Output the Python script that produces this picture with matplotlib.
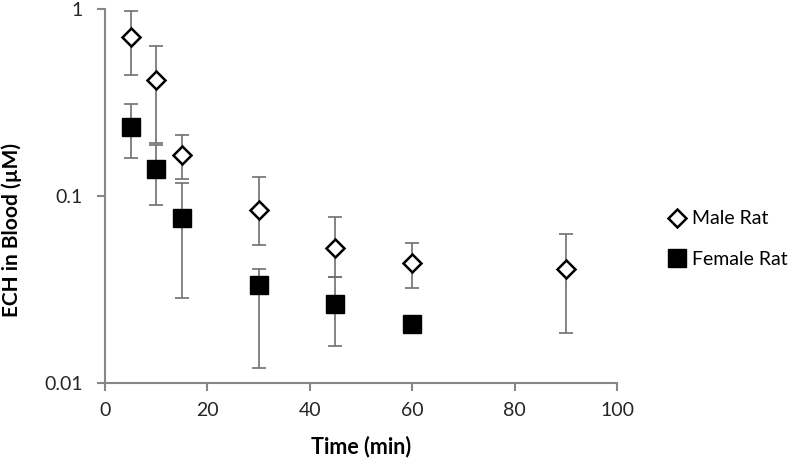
import matplotlib
matplotlib.use("Agg")
import matplotlib.pyplot as plt
import numpy as np

plt.rcParams['font.family'] = ['Lato', 'DejaVu Sans']

male_t = [5, 10, 15, 30, 45, 60, 90]
male_v = [0.711, 0.416, 0.165, 0.0839, 0.0529, 0.044, 0.0407]
male_hi = [0.98, 0.636, 0.213, 0.127, 0.0772, 0.0558, 0.0629]
male_lo = [0.442, 0.193, 0.123, 0.0545, 0.0369, 0.0323, 0.0184]

female_t = [5, 10, 15, 30, 45, 60]
female_v = [0.234, 0.139, 0.076, 0.0333, 0.0264, 0.0208]
female_hi = [0.309, 0.187, 0.117, 0.0407, 0.0369, 0.0208]
female_lo = [0.160, 0.0895, 0.0286, 0.0121, 0.0157, 0.0208]

x_ticks = [0, 20, 40, 60, 80, 100]
y_ticks = [0.01, 0.1, 1]
y_labels = ['0.01', '0.1', '1']

fig = plt.figure(figsize=(8, 4.62), dpi=100)
ax = fig.add_axes([0.13125, 0.171, 0.64, 0.8095])

err_col = '#707070'
m_err = [np.array(male_v) - np.array(male_lo), np.array(male_hi) - np.array(male_v)]
f_err = [np.array(female_v) - np.array(female_lo), np.array(female_hi) - np.array(female_v)]

ax.errorbar(female_t, female_v, yerr=f_err, fmt='none', ecolor=err_col, elinewidth=1.2,
            capsize=5, capthick=1.2, zorder=2)
ax.errorbar(male_t, male_v, yerr=m_err, fmt='none', ecolor=err_col, elinewidth=1.2,
            capsize=5, capthick=1.2, zorder=2)
ax.plot(female_t, female_v, linestyle='none', marker='s', markersize=13,
        markerfacecolor='black', markeredgecolor='black', label='Female Rat', zorder=3)
ax.plot(male_t, male_v, linestyle='none', marker='D', markersize=9.5,
        markerfacecolor='white', markeredgecolor='black', markeredgewidth=1.8,
        label='Male Rat', zorder=4)

ax.set_yscale('log')
ax.set_ylim(0.01, 1)
ax.set_xlim(0, 100)
ax.set_xticks(x_ticks)
ax.set_xticklabels([str(t) for t in x_ticks])
ax.set_yticks(y_ticks)
ax.set_yticklabels(y_labels)
ax.yaxis.set_minor_locator(matplotlib.ticker.NullLocator())

for s in ['top', 'right']:
    ax.spines[s].set_visible(False)
for s in ['left', 'bottom']:
    ax.spines[s].set_color('#868686')
    ax.spines[s].set_linewidth(1.5)
ax.tick_params(axis='both', colors='#868686', labelcolor='#262626', labelsize=14,
               length=6, width=1.5, direction='out')
ax.tick_params(axis='x', pad=8)
ax.tick_params(axis='y', pad=10)

ax.set_xlabel('Time (min)', fontsize=15.5, fontweight='bold', labelpad=12)
ax.set_ylabel('ECH in Blood (µM)', fontsize=15, fontweight='bold')
ax.yaxis.set_label_coords(-0.162, 0.409)

handles, labels = ax.get_legend_handles_labels()
order = [1, 0]
ax.legend([handles[i] for i in order], [labels[i] for i in order],
          loc='center left', bbox_to_anchor=(1.064, 0.385), frameon=False,
          fontsize=14, handletextpad=0.25, labelspacing=1.2, handlelength=1.0)

fig.savefig('out.png', dpi=100)
